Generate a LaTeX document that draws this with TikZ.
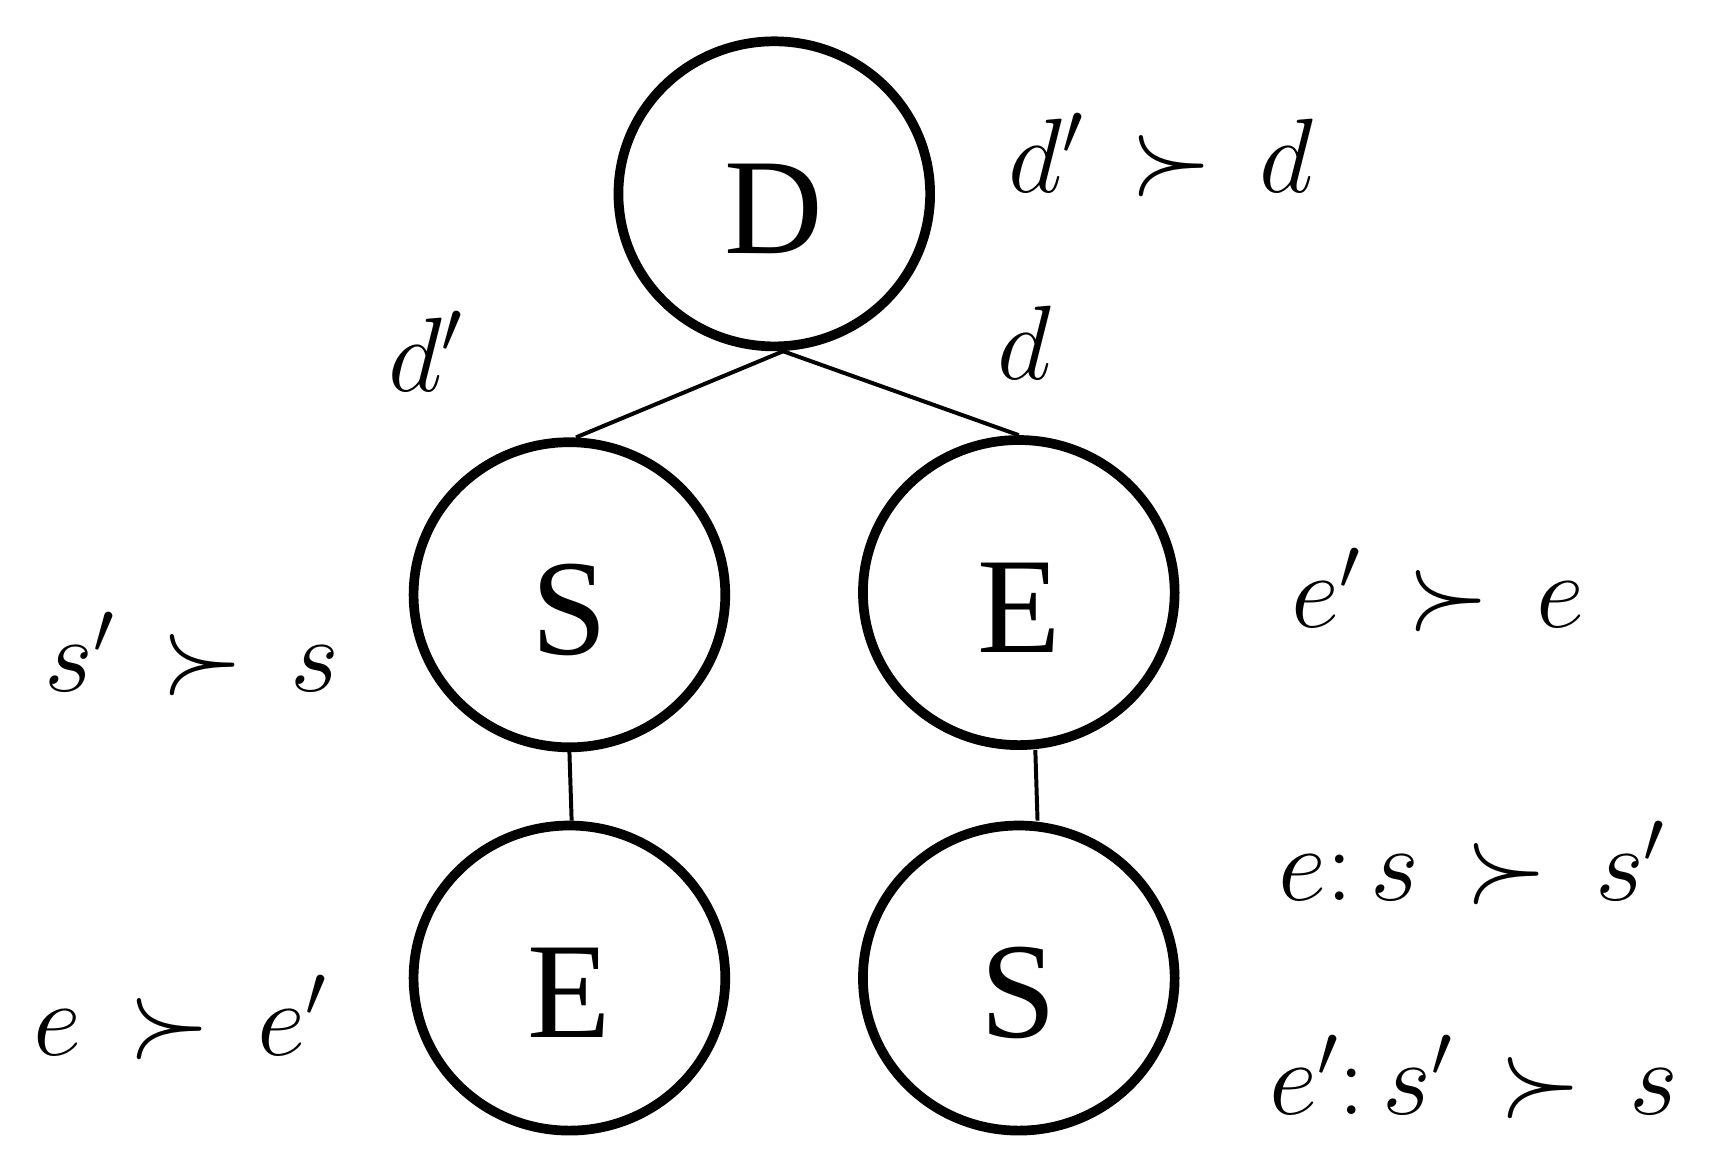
\RequirePackage{fix-cm}
\documentclass[tikz,border=0pt]{standalone}
\usepackage{fontspec}
\setmainfont{Liberation Serif}
\usetikzlibrary{shapes.geometric}
\tikzset{
  state/.style={draw, line width=4.4pt, ellipse, minimum width=141.5pt, minimum height=138.5pt, inner sep=0pt, text height=54pt, text depth=0pt, font=\fontsize{62}{64}\selectfont},
  link/.style={line width=1.8pt},
  lab/.style={anchor=base west, inner sep=0pt, font=\fontsize{48}{50}\selectfont}
}
\begin{document}
\begin{tikzpicture}[x=0.5pt,y=-0.5pt]
\useasboundingbox (0,0) rectangle (1568,1056);
\node[state] (D) at (703,176) {D};
\node[state] (S1) at (517,540) {S};
\node[state] (E1) at (925,538) {E};
\node[state] (E2) at (517,888) {E};
\node[state] (S2) at (925,888) {S};
\draw[link] ([xshift=4pt]D.south) -- ([xshift=3pt]S1.north);
\draw[link] ([xshift=4pt]D.south) -- (E1.north);
\draw[link] (S1.south) -- ([xshift=1pt]E2.north);
\draw[link] ([xshift=7.5pt]E1.south) -- ([xshift=8.5pt]S2.north);
\node[lab] (l1) at (915,175) {$d'\,\succ\,d$};
\node[lab] (l2) at (352,355) {$d'$};
\node[lab] (l3) at (905,345) {$d$};
\node[lab] (l4) at (40,628) {$s'\,\succ\,s$};
\node[lab] (l5) at (1172,570) {$e'\,\succ\,e$};
\node[lab] (l6) at (1160,818) {$e{:}\,s\,\succ\,s'$};
\node[lab] (l7) at (30,958) {$e\,\succ\,e'$};
\node[lab] (l8) at (1152,1012) {$e'{:}\,s'\,\succ\,s$};
\end{tikzpicture}
\end{document}
